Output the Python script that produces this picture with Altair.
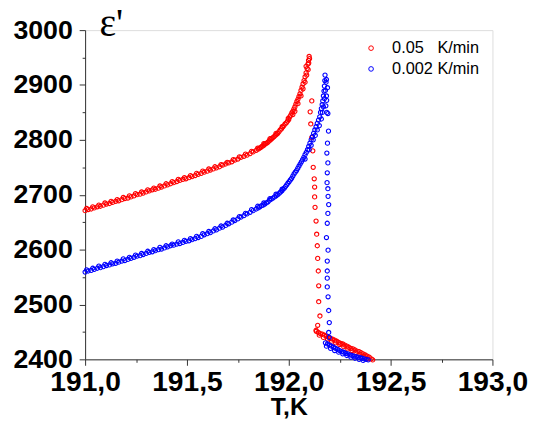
import altair as alt
import pandas as pd

# ---------------- data ----------------
SERIES = ["0.05\u00a0\u00a0\u00a0K/min", "0.002 K/min"]
COLORS = ["#ff0000", "#0000ff"]

red_T_main = [191.000, 191.015, 191.030, 191.045, 191.060, 191.075, 191.090, 191.105, 191.120, 191.135,
              191.150, 191.165, 191.180, 191.195, 191.210, 191.225, 191.240, 191.255, 191.270, 191.285,
              191.300, 191.315, 191.330, 191.345, 191.360, 191.375, 191.390, 191.405, 191.420, 191.435,
              191.450, 191.465, 191.480, 191.495, 191.510, 191.525, 191.540, 191.555, 191.570, 191.585,
              191.600, 191.615, 191.630, 191.645, 191.660, 191.675, 191.690, 191.705, 191.720, 191.735,
              191.750, 191.765, 191.780, 191.795, 191.810, 191.825, 191.840,
              191.850, 191.856, 191.862, 191.868, 191.874, 191.880, 191.886, 191.892, 191.898, 191.904,
              191.910, 191.916, 191.922, 191.928, 191.934, 191.940, 191.946, 191.952, 191.958, 191.964,
              191.970, 191.976, 191.982, 191.988, 191.994, 192.000, 192.005, 192.010, 192.015, 192.020,
              192.025, 192.030, 192.035, 192.040, 192.045, 192.050, 192.055, 192.060, 192.065, 192.070,
              192.075, 192.080, 192.085, 192.090, 192.094, 192.097, 192.100, 192.102,
              192.060, 192.070, 192.080, 192.088, 192.095, 192.045, 192.030, 192.085, 192.098, 192.020]
red_E_main = [2671, 2673, 2674, 2676, 2678, 2679, 2681, 2683, 2684, 2686,
              2688, 2689, 2691, 2693, 2694, 2696, 2698, 2700, 2701, 2703,
              2705, 2707, 2709, 2710, 2712, 2714, 2716, 2718, 2720, 2722,
              2724, 2726, 2728, 2729, 2731, 2733, 2735, 2737, 2739, 2741,
              2743, 2745, 2747, 2749, 2751, 2754, 2756, 2758, 2760, 2763,
              2765, 2768, 2770, 2772, 2775, 2778, 2781,
              2783, 2785, 2786, 2788, 2789, 2791, 2793, 2794, 2796, 2798,
              2800, 2802, 2804, 2806, 2808, 2810, 2812, 2815, 2818, 2820,
              2823, 2826, 2829, 2831, 2834, 2837, 2842, 2845, 2849, 2852,
              2856, 2860, 2865, 2870, 2874, 2879, 2884, 2890, 2896, 2902,
              2908, 2915, 2922, 2930, 2938, 2945, 2952, 2948,
              2880, 2893, 2905, 2918, 2928, 2866, 2852, 2934, 2940, 2846]

# second, slightly higher row of the same scattered band
red_T_band = [191.0075, 191.0375, 191.0675, 191.0975, 191.1275, 191.1575, 191.1875, 191.2175, 191.2475,
              191.2775, 191.3075, 191.3375, 191.3675, 191.3975, 191.4275, 191.4575, 191.4875, 191.5175,
              191.5475, 191.5775, 191.6075, 191.6375, 191.6675, 191.6975, 191.7275, 191.7575, 191.7875,
              191.8175, 191.8475, 191.8775, 191.9075, 191.9375, 191.9675, 191.9975]
red_E_band = [2675, 2678, 2681, 2685, 2688, 2691, 2695, 2698, 2702,
              2705, 2709, 2712, 2716, 2720, 2724, 2728, 2731, 2735,
              2739, 2743, 2747, 2751, 2755, 2759, 2764, 2769, 2774,
              2779, 2785, 2793, 2802, 2812, 2824, 2839]

red_T_drop = [192.113, 192.105, 192.108, 192.113, 192.118, 192.120, 192.125, 192.127, 192.127, 192.129,
              192.134, 192.137, 192.140, 192.142, 192.145, 192.147, 192.147, 192.153, 192.142, 192.134]
red_E_drop = [2871, 2851, 2829, 2804, 2780, 2750, 2729, 2714, 2696, 2677,
              2652, 2628, 2607, 2584, 2561, 2534, 2505, 2479, 2462, 2453]

red_T_tail = [192.135, 192.145, 192.155, 192.165, 192.175, 192.185, 192.195, 192.205, 192.215, 192.225,
              192.235, 192.245, 192.255, 192.265, 192.275, 192.285, 192.295, 192.305, 192.315, 192.325,
              192.335, 192.345, 192.355, 192.365, 192.375, 192.385, 192.395, 192.405, 192.412,
              192.150, 192.170, 192.190, 192.210, 192.230, 192.250, 192.270, 192.290, 192.310, 192.330,
              192.350, 192.370, 192.390]
red_E_tail = [2451, 2449, 2447, 2446, 2444, 2442, 2440, 2438, 2437, 2435,
              2433, 2431, 2429, 2428, 2426, 2424, 2422, 2420, 2419, 2417,
              2415, 2414, 2412, 2410, 2408, 2406, 2404, 2401, 2399,
              2444, 2440, 2437, 2433, 2430, 2427, 2423, 2419, 2416, 2412,
              2409, 2405, 2401]

blue_T_main = [191.000, 191.015, 191.030, 191.045, 191.060, 191.075, 191.090, 191.105, 191.120, 191.135,
               191.150, 191.165, 191.180, 191.195, 191.210, 191.225, 191.240, 191.255, 191.270, 191.285,
               191.300, 191.315, 191.330, 191.345, 191.360, 191.375, 191.390, 191.405, 191.420, 191.435,
               191.450, 191.465, 191.480, 191.495, 191.510, 191.525, 191.540, 191.555, 191.570, 191.585,
               191.600, 191.615, 191.630, 191.645, 191.660, 191.675, 191.690, 191.705, 191.720, 191.735,
               191.750, 191.765, 191.780, 191.795, 191.810, 191.825, 191.840,
               191.850, 191.858, 191.866, 191.874, 191.882, 191.890, 191.898, 191.906, 191.914, 191.922,
               191.930, 191.938, 191.946, 191.954, 191.960, 191.966, 191.972, 191.978, 191.984, 191.990,
               191.996, 192.002, 192.008, 192.014, 192.020, 192.026, 192.032, 192.038, 192.044, 192.050,
               192.056, 192.062, 192.068, 192.074, 192.080, 192.086, 192.092, 192.098, 192.104, 192.110,
               192.116, 192.122, 192.128, 192.134, 192.140, 192.146, 192.152, 192.156, 192.160, 192.164,
               192.167, 192.170, 192.173, 192.175, 192.177, 192.178,
               192.140, 192.150, 192.160, 192.165, 192.170, 192.175, 192.180, 192.183, 192.130, 192.120,
               192.100, 192.080, 192.110, 192.185, 192.182, 192.187]
blue_E_main = [2559, 2561, 2562, 2564, 2566, 2567, 2569, 2571, 2572, 2574,
               2575, 2577, 2579, 2580, 2582, 2584, 2586, 2588, 2589, 2591,
               2593, 2595, 2596, 2598, 2600, 2601, 2603, 2605, 2607, 2608,
               2610, 2611, 2613, 2615, 2616, 2618, 2620, 2622, 2624, 2627,
               2629, 2631, 2634, 2636, 2639, 2641, 2644, 2647, 2650, 2653,
               2656, 2659, 2662, 2665, 2668, 2671, 2674,
               2676, 2678, 2680, 2681, 2683, 2685, 2687, 2690, 2692, 2694,
               2696, 2698, 2700, 2703, 2705, 2707, 2710, 2712, 2715, 2718,
               2721, 2724, 2727, 2730, 2734, 2738, 2741, 2744, 2748, 2752,
               2756, 2760, 2764, 2768, 2773, 2777, 2782, 2788, 2794, 2800,
               2806, 2812, 2818, 2824, 2830, 2836, 2842, 2850, 2857, 2864,
               2871, 2880, 2889, 2898, 2908, 2918,
               2818, 2826, 2838, 2850, 2860, 2875, 2890, 2905, 2808, 2800,
               2782, 2765, 2790, 2880, 2862, 2850]

blue_T_band = [191.0075, 191.0375, 191.0675, 191.0975, 191.1275, 191.1575, 191.1875, 191.2175, 191.2475,
               191.2775, 191.3075, 191.3375, 191.3675, 191.3975, 191.4275, 191.4575, 191.4875, 191.5175,
               191.5475, 191.5775, 191.6075, 191.6375, 191.6675, 191.6975, 191.7275, 191.7575, 191.7875,
               191.8175, 191.8475, 191.8775, 191.9075, 191.9375, 191.9675]
blue_E_band = [2563, 2566, 2570, 2573, 2576, 2579, 2583, 2586, 2590,
               2593, 2597, 2600, 2604, 2607, 2610, 2614, 2617, 2620,
               2624, 2629, 2633, 2638, 2643, 2648, 2654, 2660, 2666,
               2673, 2679, 2685, 2693, 2701, 2710]

blue_T_drop = [192.185, 192.190, 192.186, 192.192, 192.195, 192.190, 192.187, 192.192, 192.189, 192.188,
               192.192, 192.193, 192.196, 192.192, 192.189, 192.185, 192.193, 192.189, 192.189, 192.189,
               192.189, 192.193, 192.196, 192.199, 192.196, 192.199]
blue_E_drop = [2910, 2895, 2872, 2848, 2816, 2794, 2776, 2758, 2740, 2722,
               2711, 2697, 2682, 2666, 2648, 2622, 2599, 2579, 2561, 2548,
               2532, 2514, 2489, 2467, 2449, 2440]

blue_T_tail = [192.180, 192.190, 192.200, 192.210, 192.220, 192.230, 192.240, 192.250, 192.260, 192.270,
               192.280, 192.290, 192.300, 192.310, 192.320, 192.330, 192.340, 192.350, 192.360, 192.370,
               192.380, 192.390,
               192.185, 192.205, 192.225, 192.245, 192.265, 192.285, 192.305, 192.325, 192.345, 192.365]
blue_E_tail = [2430, 2428, 2426, 2424, 2422, 2420, 2418, 2416, 2414, 2413,
               2411, 2410, 2408, 2407, 2406, 2405, 2404, 2403, 2402, 2401,
               2400, 2399,
               2424, 2420, 2416, 2413, 2410, 2407, 2404, 2402, 2400, 2398]

X_TICKS = [191.0, 191.25, 191.5, 191.75, 192.0, 192.25, 192.5, 192.75, 193.0]
Y_TICKS = [2400, 2450, 2500, 2550, 2600, 2650, 2700, 2750, 2800, 2850, 2900, 2950, 3000]

# ---------------- table ----------------
red_T = red_T_main + red_T_band + red_T_drop + red_T_tail
red_E = red_E_main + red_E_band + red_E_drop + red_E_tail
blue_T = blue_T_main + blue_T_band + blue_T_drop + blue_T_tail
blue_E = blue_E_main + blue_E_band + blue_E_drop + blue_E_tail

df = pd.DataFrame({
    "T": red_T + blue_T,
    "eps": red_E + blue_E,
    "rate": [SERIES[0]] * len(red_T) + [SERIES[1]] * len(blue_T),
})

FONT = "Liberation Sans"

x_major = "abs(datum.value*2 - round(datum.value*2)) < 0.001"
y_major = "datum.value % 100 == 0"

chart = alt.Chart(df).mark_point(
    shape="circle", filled=False, size=18, strokeWidth=1.1, opacity=1
).encode(
    x=alt.X("T:Q",
            scale=alt.Scale(domain=[191.0, 193.0], nice=False, zero=False),
            axis=alt.Axis(
                values=X_TICKS, title="T,K", grid=False,
                labelExpr=f"({x_major}) ? replace(format(datum.value, '.1f'), '.', ',') : ''",
                tickSize={"condition": {"test": x_major, "value": 6}, "value": 3},
                labelFont=FONT, labelFontSize=28.5, labelFontWeight="bold", labelColor="black",
                labelPadding=3, labelFlush=False, labelOverlap=False,
                titleFont=FONT, titleFontSize=25, titleFontWeight="bold", titleColor="black",
                titleBaseline="alphabetic", titleY=56,
                domainColor="#333333", tickColor="#333333", domainWidth=1, tickWidth=1,
            )),
    y=alt.Y("eps:Q",
            scale=alt.Scale(domain=[2400, 3000], nice=False, zero=False),
            axis=alt.Axis(
                values=Y_TICKS, title="ε'", grid=False,
                labelExpr=f"({y_major}) ? format(datum.value, 'd') : ''",
                tickSize={"condition": {"test": y_major, "value": 6}, "value": 3},
                labelFont=FONT, labelFontSize=27, labelFontWeight="bold", labelColor="black",
                labelPadding=7, labelFlush=False, labelOverlap=False,
                titleAngle=0, titleAlign="left", titleBaseline="alphabetic",
                titleX=14, titleY=5,
                titleFont="Liberation Serif", titleFontSize=40, titleFontWeight="normal",
                titleColor="black",
                domainColor="#333333", tickColor="#333333", domainWidth=1, tickWidth=1,
            )),
    color=alt.Color("rate:N",
                    scale=alt.Scale(domain=SERIES, range=COLORS),
                    legend=alt.Legend(
                        title=None, orient="none", legendX=281, legendY=10,
                        symbolType="circle", symbolSize=22, symbolStrokeWidth=1,
                        labelFont=FONT, labelFontSize=16.5, labelColor="black",
                        labelOffset=13, rowPadding=4, padding=0,
                    )),
).properties(
    width=412, height=333,
    autosize=alt.AutoSizeParams(type="none"),
    padding={"left": 78, "top": 20, "right": 38, "bottom": 60},
).configure_view(strokeWidth=0).configure(background="white")

chart.save("out.html", embed_options={"renderer": "svg", "actions": False})
